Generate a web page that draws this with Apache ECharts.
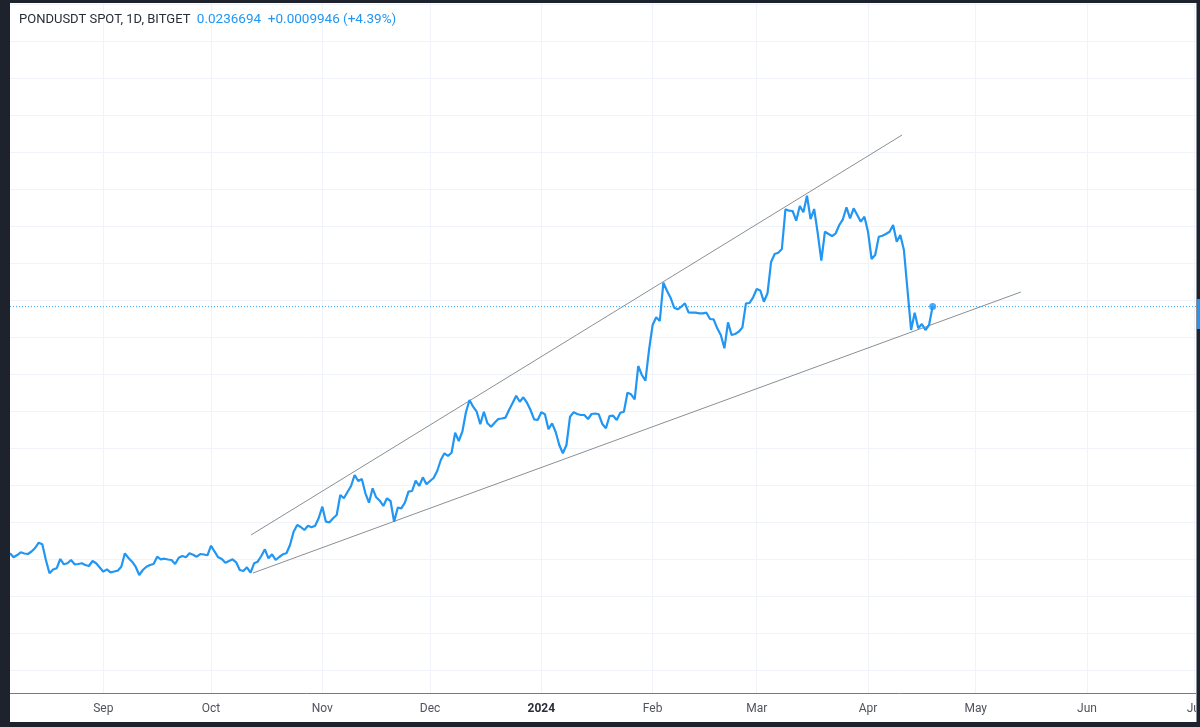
<!DOCTYPE html>
<html><head><meta charset="utf-8">
<script src="https://cdn.jsdelivr.net/npm/echarts@6/dist/echarts.min.js"></script>
<style>
html,body{margin:0;padding:0;width:1200px;height:727px;background:#1e222d;overflow:hidden;}
#c{position:absolute;left:10px;top:3px;width:1186px;height:719px;background:#fff;}
#rb{position:absolute;left:1196px;top:3px;width:1px;height:719px;background:#8a8e99;}
#tag{position:absolute;left:1197px;top:299px;width:3px;height:30px;background:#2196f3;}
</style></head><body>
<div id="c"></div><div id="rb"></div><div id="tag"></div>
<script>
const startDate = [2023, 7, 6]; // first daily close: 2023-08-06
const prices = [
0.010335,0.010119,0.010243,0.010389,0.010324,0.010297,0.010432,0.010622,0.010908,0.010822,
0.009973,0.009254,0.009459,0.009524,0.010027,0.009741,0.009795,0.009973,0.009741,0.009757,
0.009795,0.009703,0.009649,0.009919,0.009795,0.009568,0.009341,0.009470,0.009308,0.009351,
0.009395,0.009611,0.010335,0.010081,0.009881,0.009611,0.009162,0.009432,0.009611,0.009703,
0.009757,0.010151,0.010011,0.010043,0.010000,0.009973,0.009757,0.010097,0.010189,0.010119,
0.010335,0.010259,0.010151,0.010297,0.010270,0.010227,0.010746,0.010422,0.010119,0.010027,
0.009827,0.009919,0.010011,0.009849,0.009432,0.009378,0.009578,0.009286,0.009795,0.009881,
0.010189,0.010551,0.010065,0.010281,0.009973,0.010135,0.010281,0.010335,0.010784,0.011503,
0.011865,0.011757,0.011595,0.011827,0.011741,0.011827,0.012243,0.012854,0.012043,0.012011,
0.012227,0.012405,0.013486,0.013308,0.013649,0.013973,0.014568,0.014243,0.014351,0.013578,
0.013070,0.013849,0.013362,0.013178,0.012892,0.013308,0.013162,0.012043,0.012800,0.012768,
0.013070,0.013665,0.013703,0.014259,0.013973,0.014443,0.014065,0.014243,0.014405,0.014784,
0.015378,0.015741,0.015595,0.015773,0.016854,0.016405,0.016908,0.017957,0.018622,0.018259,
0.017989,0.017308,0.017989,0.017362,0.017178,0.017395,0.017595,0.017622,0.017665,0.018081,
0.018459,0.018854,0.018530,0.018768,0.018476,0.018081,0.017578,0.017541,0.017957,0.017849,
0.017038,0.017362,0.016892,0.016189,0.015741,0.016189,0.017719,0.017957,0.017865,0.017811,
0.017811,0.017595,0.017865,0.017892,0.017849,0.017324,0.017092,0.017757,0.017773,0.017541,
0.017935,0.017989,0.019016,0.018930,0.018659,0.020459,0.019973,0.019665,0.021324,0.022676,
0.023092,0.022892,0.024962,0.024530,0.024151,0.023611,0.023524,0.023665,0.023849,0.023362,
0.023341,0.023341,0.023308,0.023308,0.023341,0.023000,0.022984,0.022497,0.022135,0.021416,
0.022822,0.022135,0.022189,0.022314,0.022541,0.023849,0.023865,0.024173,0.024622,0.024541,
0.023935,0.024389,0.026081,0.026514,0.026584,0.026784,0.028930,0.028854,0.028838,0.028314,
0.029108,0.028768,0.029665,0.028405,0.028946,0.027632,0.026151,0.027719,0.027595,0.027486,
0.027632,0.028081,0.028389,0.029038,0.028443,0.028984,0.028622,0.028259,0.028530,0.027719,
0.026243,0.026459,0.027449,0.027503,0.027595,0.027719,0.028081,0.027178,0.027541,0.026730,
0.024568,0.022405,0.023341,0.022497,0.022730,0.022405,0.0226748,0.0236694
];
const upperTrend = [['2023-10-12 03:00', 0.011324], ['2024-04-10 12:00', 0.032946]];
const lowerTrend = [['2023-10-12 16:30', 0.009270], ['2024-05-13 14:00', 0.024459]];
const monthTicks = ['2023-09-01','2023-10-01','2023-11-01','2023-12-01','2024-01-01','2024-02-01',
                    '2024-03-01','2024-04-01','2024-05-01','2024-06-01','2024-07-01'];
const monthNames = ['Jan','Feb','Mar','Apr','May','Jun','Jul','Aug','Sep','Oct','Nov','Dec'];
const symbolText = 'PONDUSDT SPOT, 1D, BITGET';
const quoteText = '0.0236694  +0.0009946 (+4.39%)';
const priceMin = 0.004, priceMax = 0.040, priceStep = 0.002;

const toTs = s => {
  const [d, t] = s.split(' ');
  const [y, m, dd] = d.split('-').map(Number);
  const [h, mi] = (t || '00:00').split(':').map(Number);
  return new Date(y, m - 1, dd, h, mi).getTime();
};
const axisMin = toTs('2023-08-06 00:00');
const axisMax = toTs('2024-07-01 08:40');
const dates = prices.map((_, i) => new Date(startDate[0], startDate[1], startDate[2] + i).getTime());
const priceData = prices.map((p, i) => [dates[i], p]);
const lastPoint = priceData[priceData.length - 1];
const tickValues = monthTicks.map(toTs);
const FONT = 'Roboto, "Noto Sans", sans-serif';

const chart = echarts.init(document.getElementById('c'), null, {renderer: 'canvas'});
chart.setOption({
  animation: false,
  backgroundColor: '#ffffff',
  title: {
    left: 9, top: 10, padding: 0,
    text: '{a|' + symbolText + '  }{b|' + quoteText + '}',
    textStyle: {
      rich: {
        a: {fontSize: 13, fontWeight: 'normal', color: '#2a2e39', fontFamily: FONT},
        b: {fontSize: 13.5, fontWeight: 'normal', color: '#2196f3', fontFamily: FONT}
      }
    }
  },
  grid: [
    {left: 0, right: 0, top: 0, bottom: 29, outerBoundsMode: 'none', containLabel: false},
    {left: 0, right: 0, top: 1.5, bottom: 51.5, outerBoundsMode: 'none', containLabel: false}
  ],
  xAxis: [{
    type: 'value', gridIndex: 0,
    min: axisMin, max: axisMax,
    axisLine: {show: true, lineStyle: {color: '#787b86', width: 1}},
    axisTick: {show: false, customValues: tickValues},
    axisLabel: {
      customValues: tickValues,
      margin: 10, fontSize: 12, color: '#50535e', fontFamily: FONT,
      formatter: function (v) {
        const d = new Date(v);
        if (d.getMonth() === 0) return '{y|' + d.getFullYear() + '}';
        return monthNames[d.getMonth()];
      },
      rich: {y: {fontSize: 12, fontWeight: 'bold', color: '#2a2e39', fontFamily: FONT}}
    },
    splitLine: {show: true, lineStyle: {color: '#f0f3fa', width: 1}}
  }, {
    type: 'time', gridIndex: 1, min: axisMin, max: axisMax,
    axisLine: {show: false}, axisTick: {show: false}, axisLabel: {show: false}, splitLine: {show: false}
  }],
  yAxis: [{
    type: 'value', gridIndex: 0, min: 0, max: 1,
    axisLine: {show: false}, axisTick: {show: false}, axisLabel: {show: false}, splitLine: {show: false}
  }, {
    type: 'value', gridIndex: 1, position: 'right',
    min: priceMin, max: priceMax, interval: priceStep,
    axisLine: {show: false}, axisTick: {show: false}, axisLabel: {show: false},
    splitLine: {show: true, lineStyle: {color: '#f0f3fa', width: 1}}
  }],
  series: [
    {type: 'line', xAxisIndex: 1, yAxisIndex: 1, data: [[axisMin, lastPoint[1]], [axisMax, lastPoint[1]]],
     symbol: 'none', silent: true, z: 2,
     lineStyle: {color: '#2196f3', type: [1, 2], width: 1, opacity: 0.9}},
    {type: 'line', xAxisIndex: 1, yAxisIndex: 1, data: upperTrend.map(p => [toTs(p[0]), p[1]]),
     symbol: 'none', silent: true, z: 1, lineStyle: {color: '#8c8f96', width: 1}},
    {type: 'line', xAxisIndex: 1, yAxisIndex: 1, data: lowerTrend.map(p => [toTs(p[0]), p[1]]),
     symbol: 'none', silent: true, z: 1, lineStyle: {color: '#8c8f96', width: 1}},
    {type: 'line', xAxisIndex: 1, yAxisIndex: 1, data: priceData, showSymbol: false, symbol: 'none', z: 3,
     lineStyle: {color: '#2196f3', width: 2.2}, itemStyle: {color: '#2196f3'}},
    {type: 'scatter', xAxisIndex: 1, yAxisIndex: 1, data: [lastPoint], symbolSize: 7, z: 4,
     itemStyle: {color: '#2196f3'}}
  ]
});
</script>
</body></html>
